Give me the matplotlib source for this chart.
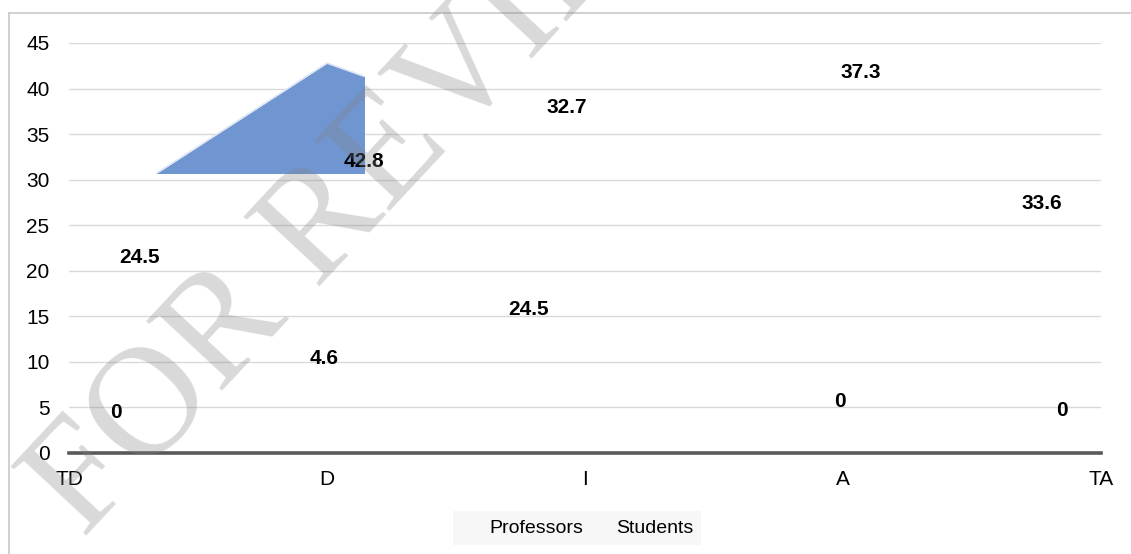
import matplotlib
matplotlib.use("Agg")
import matplotlib.pyplot as plt
from matplotlib.lines import Line2D
from matplotlib.patches import Rectangle

categories = ["TD", "D", "I", "A", "TA"]
professors = [0, 4.6, 24.5, 0, 0]
students = [24.5, 42.8, 32.7, 37.3, 33.6]
y_ticks = [0, 5, 10, 15, 20, 25, 30, 35, 40, 45]
series_names = ["Professors", "Students"]

# label anchor points (data coordinates) for each series
prof_label_pos = [(0.18, 4.4), (0.99, 10.4), (1.78, 15.8), (2.99, 5.6), (3.85, 4.7)]
stud_label_pos = [(0.275, 21.5), (1.143, 32.0), (1.93, 37.9), (3.07, 41.8), (3.77, 27.4)]

FONT = "Liberation Sans"
W, H = 1131, 554
fig = plt.figure(figsize=(W / 100, H / 100), dpi=100)
ax = fig.add_axes([69 / W, (H - 453) / H, (1101 - 69) / W, (453 - 43) / H])

x = list(range(len(categories)))

# Students area, only the clipped window of it is rendered
clip = Rectangle((0, 30.7), 1.143, 20, transform=ax.transData)
area = ax.fill_between(x, 0, students, color="#7096d2", linewidth=0, zorder=2)
area.set_clip_path(clip)
edge, = ax.plot(x, students, color="#dfe6f5", lw=1.2, zorder=2)
edge.set_clip_path(clip)

# value labels
for v, (lx, ly) in zip(professors, prof_label_pos):
    ax.text(lx, ly, f"{v:g}", ha="center", va="center", fontsize=15,
            fontweight="bold", family=FONT, color="black", zorder=4)
for v, (lx, ly) in zip(students, stud_label_pos):
    ax.text(lx, ly, f"{v:g}", ha="center", va="center", fontsize=15,
            fontweight="bold", family=FONT, color="black", zorder=4)

ax.set_xlim(0, 4)
ax.set_ylim(0, 45)
ax.set_xticks(x)
ax.set_xticklabels(categories, family=FONT, fontsize=15)
ax.set_yticks(y_ticks)
ax.set_yticklabels([str(t) for t in y_ticks], family=FONT, fontsize=15)
ax.tick_params(axis="both", length=0, colors="black")
ax.tick_params(axis="x", pad=12.5)
ax.tick_params(axis="y", pad=14)
ax.yaxis.grid(True, color="#d9d9d9", lw=1)
ax.set_axisbelow(True)
for s in ["left", "right", "top"]:
    ax.spines[s].set_visible(False)
ax.spines["bottom"].set_color("#595959")
ax.spines["bottom"].set_linewidth(2.6)
ax.spines["bottom"].set_zorder(3)

# legend with text-only entries
handles = [Line2D([], [], linestyle="none") for _ in series_names]
leg = ax.legend(handles, series_names, loc="center",
                bbox_to_anchor=(577 / W, 1 - 528 / H), bbox_transform=fig.transFigure,
                ncol=2, frameon=True, fancybox=False, borderpad=0.4,
                handlelength=1.3, handletextpad=0.15, columnspacing=0.26,
                prop={"family": FONT, "size": 14})
leg.get_frame().set_facecolor("#f7f7f7")
leg.get_frame().set_edgecolor("none")
leg.get_frame().set_alpha(1)

# chart frame
fig.add_artist(Line2D([9 / W, 9 / W], [0, 1 - 13 / H], color="#c8c8c8", lw=1.2))
fig.add_artist(Line2D([9 / W, 1], [1 - 13 / H, 1 - 13 / H], color="#c8c8c8", lw=1.2))

# review watermark
fig.text(378 / W, 1 - 168 / H, "FOR REVIEW", rotation=47, rotation_mode="anchor",
         ha="center", va="center", fontsize=112, family="Liberation Serif",
         color="0.5", alpha=0.3, zorder=10)

fig.savefig("out.png", dpi=100)
